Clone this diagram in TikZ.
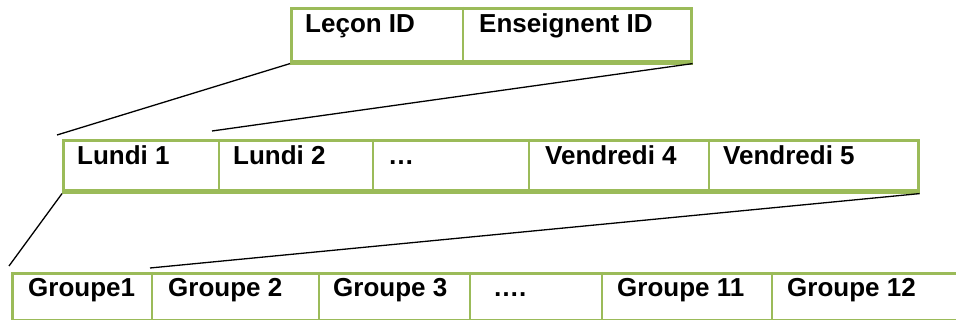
\documentclass[tikz,border=0pt]{standalone}
\usepackage{fontspec}
\setmainfont{Liberation Sans}
\definecolor{tgreen}{HTML}{9BBB59}
\begin{document}
\begin{tikzpicture}[x=1pt,y=-1pt,
  tbl/.style={draw=tgreen,line width=2.6pt,rectangle,inner sep=0pt,anchor=north west},
  thick bottom/.style={draw=tgreen,line width=4pt},
  divider/.style={draw=tgreen,line width=2.6pt},
  lbl/.style={anchor=base west,inner sep=0pt,font=\fontsize{26}{30}\selectfont\bfseries},
  conn/.style={draw=black,line width=1.3pt}]
\clip (0,0) rectangle (956,320);
% top table
\node[tbl,minimum width=400pt,minimum height=53pt] (T) at (290,7) {};
\draw[thick bottom] (T.south west) -- (T.south east);
\draw[divider] (463,7) -- (463,60);
\node[lbl] (t1) at (305,33) {Leçon ID};
\node[lbl] (t2) at (479,33) {Enseignent ID};
% middle table
\node[tbl,minimum width=855pt,minimum height=50pt] (M) at (62,139) {};
\draw[thick bottom] (M.south west) -- (M.south east);
\foreach \x in {219,373,529,709} \draw[divider] (\x,139) -- (\x,189);
\node[lbl] (m1) at (77,165) {Lundi 1};
\node[lbl] (m2) at (233,165) {Lundi 2};
\node[lbl] (m3) at (388,165) {…};
\node[lbl] (m4) at (545,165) {Vendredi 4};
\node[lbl] (m5) at (723,165) {Vendredi 5};
% bottom table
\node[tbl,minimum width=960pt,minimum height=47pt] (B) at (11,272) {};
\foreach \x in {152,319,470,602,772} \draw[divider] (\x,272) -- (\x,319);
\node[lbl] (b1) at (28,297) {Groupe1};
\node[lbl] (b2) at (168,297) {Groupe 2};
\node[lbl] (b3) at (333,297) {Groupe 3};
\node[lbl] (b4) at (493,297) {….};
\node[lbl] (b5) at (617,297) {Groupe 11};
\node[lbl] (b6) at (787,297) {Groupe 12};
% connectors
\coordinate (c1) at (57,135);
\coordinate (c2) at (212,131);
\coordinate (c3) at (9,266);
\coordinate (c4) at (150,268);
\draw[conn] ([yshift=-1pt]T.south west) -- (c1);
\draw[conn] ([yshift=-1pt]T.south east) -- (c2);
\draw[conn] ([yshift=-2pt]M.south west) -- (c3);
\draw[conn] ([yshift=-2pt]M.south east) -- (c4);
\end{tikzpicture}
\end{document}
